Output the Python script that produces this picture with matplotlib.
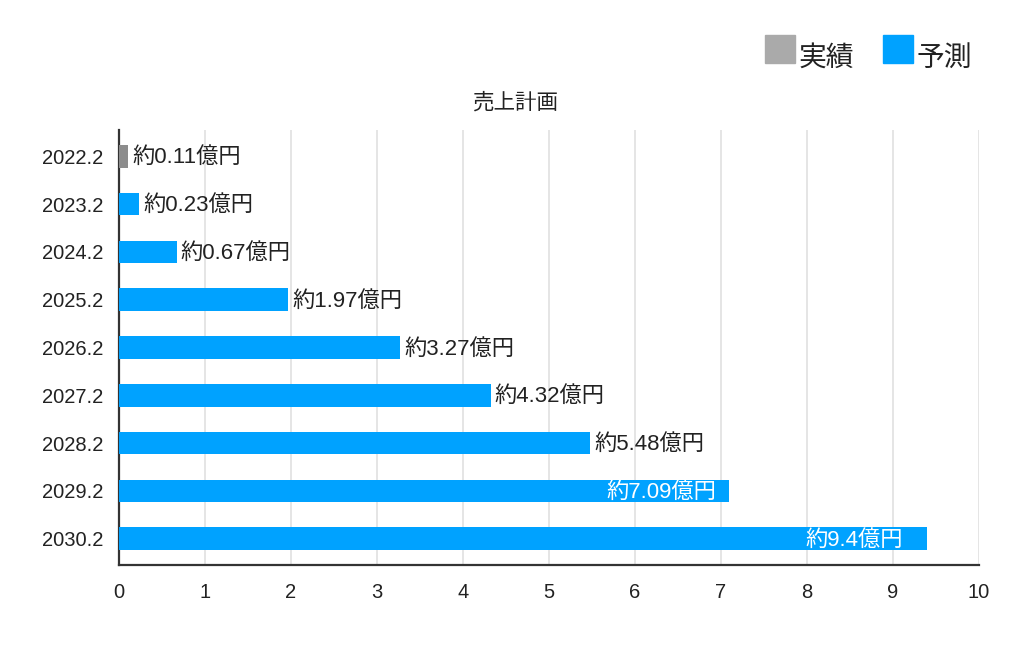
import matplotlib.pyplot as plt
from matplotlib.patches import Rectangle

plt.rcParams['font.family'] = ['Liberation Sans', 'Noto Sans CJK JP']

years = ["2022.2", "2023.2", "2024.2", "2025.2", "2026.2",
         "2027.2", "2028.2", "2029.2", "2030.2"]
sales = [0.11, 0.23, 0.67, 1.97, 3.27, 4.32, 5.48, 7.09, 9.4]
labels = ["約0.11億円", "約0.23億円", "約0.67億円", "約1.97億円", "約3.27億円",
          "約4.32億円", "約5.48億円", "約7.09億円", "約9.4億円"]
kinds = ["実績"] + ["予測"] * 8

colors = {"実績": "#8c8c8c", "予測": "#00a2ff"}
legend_colors = {"実績": "#aaaaaa", "予測": "#00a2ff"}

fig = plt.figure(figsize=(10.3, 6.5), dpi=100)
ax = fig.add_axes([0.1155, 0.1308, 0.835, 0.6692])

pos = list(range(len(years)))
ax.barh(pos, sales, height=0.47, color=[colors[k] for k in kinds], zorder=3)
ax.set_ylim(len(years) - 0.45, -0.55)
ax.set_xlim(0, 10)
ax.set_yticks(pos)
ax.set_yticklabels(years, fontsize=14.5, color="#222222")
ax.set_xticks(range(11))
ax.tick_params(axis="x", labelsize=14.5, length=0, pad=13, colors="#222222")
ax.tick_params(axis="y", length=0, pad=11)
ax.xaxis.grid(True, color="#e0e0e0", linewidth=1.2, zorder=0)
for s in ["top", "right"]:
    ax.spines[s].set_visible(False)
for s in ["left", "bottom"]:
    ax.spines[s].set_color("#333333")
    ax.spines[s].set_linewidth(1.6)

# labels inside the long bars sit a bit back from the bar end
inside_pad = {7: 0.14, 8: 0.28}
for p, v, lab in zip(pos, sales, labels):
    y = p + 0.03
    if p in inside_pad:
        ax.text(v - inside_pad[p], y, lab, ha="right", va="center",
                fontsize=16, color="white", zorder=4)
    else:
        ax.text(v + 0.05, y, lab, ha="left", va="center", fontsize=16,
                color="#222222", zorder=4)

fig.text(0.5, 0.842, "売上計画", ha="center", va="center", fontsize=15.5,
         color="#222222")

# legend drawn by hand at the top right
for x0, name in [(0.7425, "実績"), (0.857, "予測")]:
    fig.patches.append(Rectangle((x0, 0.903), 0.029, 0.043,
                                 transform=fig.transFigure,
                                 color=legend_colors[name]))
    fig.text(x0 + 0.033, 0.91, name, ha="left", va="center", fontsize=20,
             color="#222222")

fig.savefig("out.png", dpi=100)
